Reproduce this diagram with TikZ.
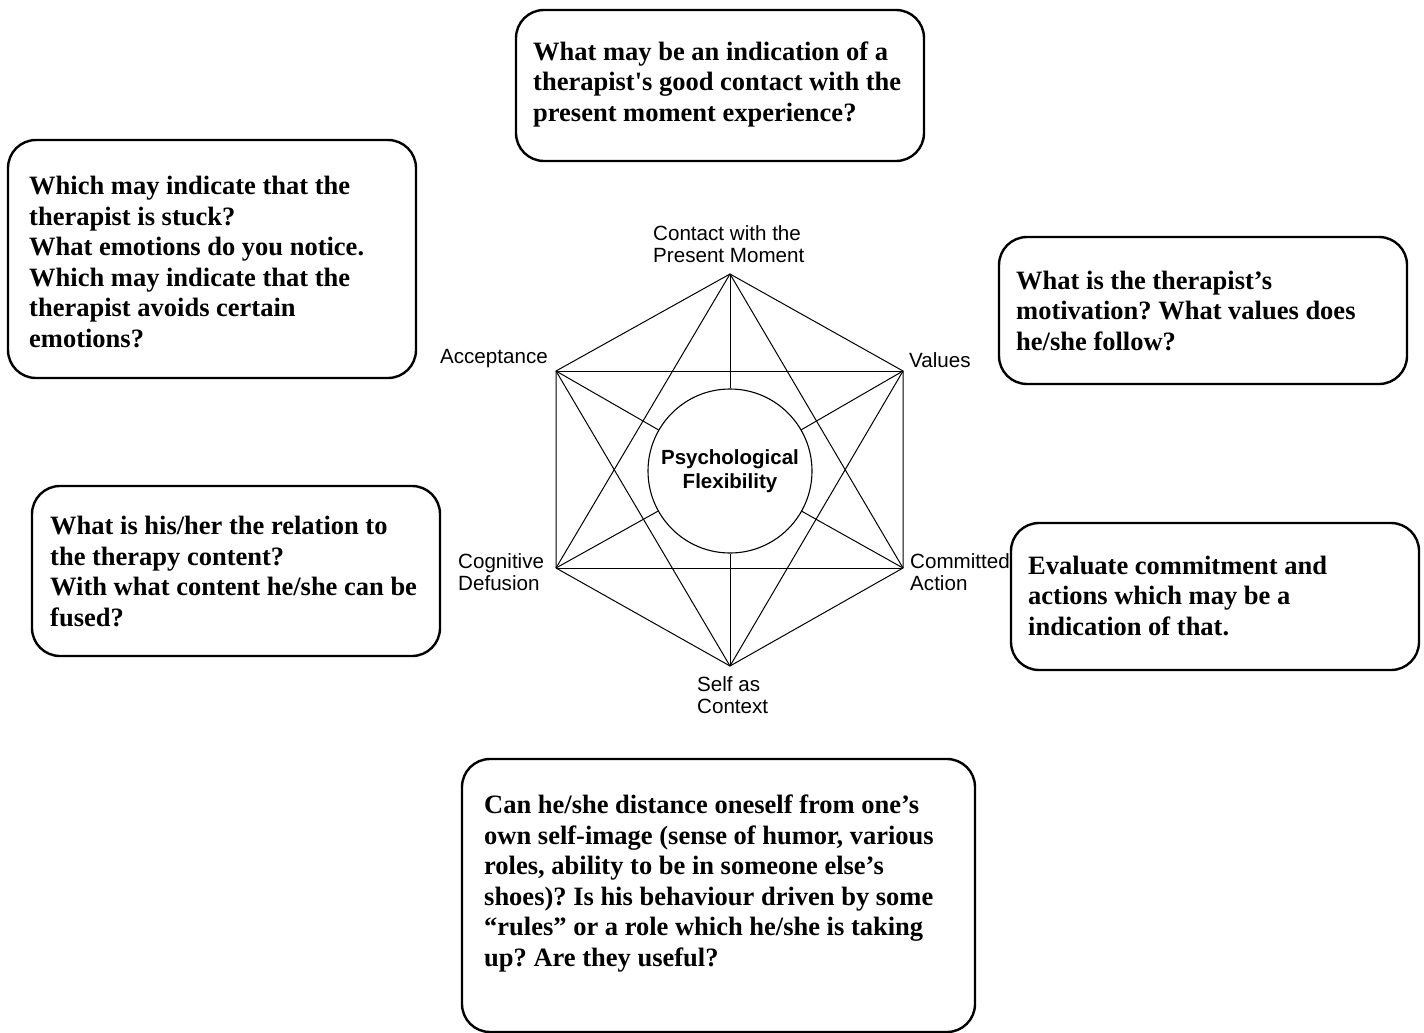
\documentclass[tikz,border=0pt]{standalone}
\usepackage{fontspec}
\setmainfont{Liberation Serif}[Ligatures=TeXOff]
\setsansfont{Liberation Sans}
\frenchspacing
\begin{document}
\begin{tikzpicture}[x=1pt,y=-1pt]
\tikzset{
  qbox/.style={draw, line width=2.4pt, rounded corners=28pt},
  qtext/.style={anchor=base west, align=left, inner sep=0pt, font=\bfseries\fontsize{26.5}{30.5}\selectfont},
  hexline/.style={line width=1pt},
  lbl/.style={font=\sffamily\fontsize{20.6}{22}\selectfont, inner sep=0pt, align=left},
}
\useasboundingbox (0,0) rectangle (1424,1033);
\fill[white] (0,0) rectangle (1424,1033);

% hexagon
\coordinate (T) at (730,274);
\coordinate (A) at (556,371);
\coordinate (V) at (903,371);
\coordinate (D) at (556,568);
\coordinate (C) at (903,568);
\coordinate (B) at (730,666);
\node[circle, draw, line width=1.1pt, minimum size=164pt, inner sep=0pt, align=center,
      font=\sffamily\bfseries\fontsize{20.5}{24}\selectfont] (pf) at (730,471) {Psychological\\Flexibility};
\draw[hexline] (T) -- (V) -- (C) -- (B) -- (D) -- (A) -- cycle;
\draw[hexline] (A) -- (V);
\draw[hexline] (D) -- (C);
\draw[hexline] (T) -- (D);
\draw[hexline] (T) -- (C);
\draw[hexline] (B) -- (A);
\draw[hexline] (B) -- (V);
\foreach \p in {T,A,V,D,C,B} \draw[hexline] (\p) -- (pf);

% labels
\node[lbl, anchor=west] (lT) at (653,244) {Contact with the\\Present Moment};
\node[lbl, anchor=east] (lA) at (548,359) {Acceptance};
\node[lbl, anchor=west] (lV) at (909,360) {Values};
\node[lbl, anchor=west] (lD) at (458,572) {Cognitive\\Defusion};
\node[lbl, anchor=west] (lC) at (910,572) {Committed\\Action};
\node[lbl, anchor=west] (lB) at (697,695) {Self as\\Context};

% question boxes (base anchor = last line's baseline)
\draw[qbox] (516,10) rectangle (924,161);
\node[qtext] (q1) at (533,121) {What may be an indication of a\\therapist's good contact with the\\present moment experience?};

\draw[qbox] (8,140) rectangle (416,378);
\node[qtext] (q2) at (29,347) {Which may indicate that the\\therapist is stuck?\\What emotions do you notice.\\Which may indicate that the\\therapist avoids certain\\emotions?};

\draw[qbox] (999,237) rectangle (1407,384);
\node[qtext] (q3) at (1016,350) {What is the therapist’s\\motivation? What values does\\he/she follow?};

\draw[qbox] (32,486) rectangle (440,656);
\node[qtext] (q4) at (50,626) {What is his/her the relation to\\the therapy content?\\With what content he/she can be\\fused?};

\draw[qbox] (1011,523) rectangle (1419,670);
\node[qtext] (q5) at (1028,635) {Evaluate commitment and\\actions which may be a\\indication of that.};

\draw[qbox] (462,759) rectangle (975,1032);
\node[qtext] (q6) at (484,966) {Can he/she distance oneself from one’s\\own self-image (sense of humor, various\\roles, ability to be in someone else’s\\shoes)? Is his behaviour driven by some\\“rules” or a role which he/she is taking\\up? Are they useful?};
\end{tikzpicture}
\end{document}
